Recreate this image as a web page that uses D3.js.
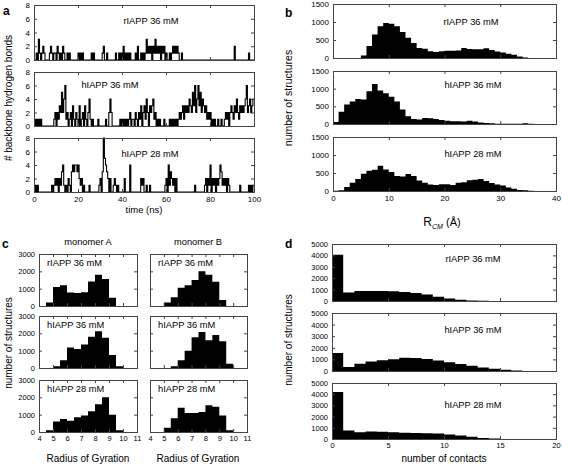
<!DOCTYPE html>
<html><head><meta charset="utf-8">
<script src="https://cdn.jsdelivr.net/npm/d3@7"></script>
<style>body{margin:0;background:#fff}svg{display:block}</style>
</head><body>
<svg id="c" width="562" height="465"></svg>
<script>
// ---------- DATA ----------
// (a) backbone hydrogen bonds vs time, sampled every hbStep ns
const hbStep = 0.5;
const hbTimeTicks = [0, 20, 40, 60, 80, 100];
const hbYTicks = [0, 2, 4, 6, 8];
const hbRat36 = [
 0,0,1,0,3,1,0,1,2,1, 0,0,0,0,1,2,1,0,1,1, 0,2,1,0,1,0,2,1,0,0, 1,0,1,0,0,0,0,0,0,0,
 1,0,1,0,1,0,0,0,0,0, 0,0,1,0,1,0,0,0,0,0, 0,0,1,2,0,0,1,0,0,0, 0,0,0,0,1,0,0,1,0,1,
 0,2,0,1,0,1,0,1,0,0, 0,0,1,0,2,0,0,1,0,1, 0,1,3,1,2,1,2,0,2,1, 3,1,2,1,2,0,2,1,2,0,
 1,0,0,1,0,1,2,1,2,1, 2,1,0,0,1,0,0,0,0,0, 0,0,0,0,0,0,0,0,0,0, 0,0,0,0,0,0,0,0,0,0,
 0,0,0,0,0,0,0,0,0,0, 0,0,0,0,0,0,0,0,0,0, 0,0,2,0,0,0,0,0,0,0, 0,0,0,0,0,1,0,0,0,0];
const hbHum36 = [
 1,0,1,0,1,0,1,0,0,0, 0,0,0,0,0,0,0,0,1,2, 0,2,1,3,2,5,2,4,6,1, 2,0,1,2,0,3,1,0,2,1,
 0,3,0,1,2,0,3,1,0,2, 4,1,0,1,0,0,0,0,1,0, 0,0,0,0,0,1,0,0,2,4, 2,0,0,0,0,0,0,0,1,0,
 1,0,1,0,1,0,1,2,0,1, 1,0,2,1,0,2,1,3,0,2, 3,1,4,2,0,3,2,3,4,1, 2,0,1,0,1,0,0,0,1,0,
 0,0,0,1,0,1,0,1,0,1, 0,1,2,1,2,3,1,3,2,3, 2,4,3,2,5,3,6,2,4,6, 3,5,2,4,3,2,3,1,2,1,
 2,0,1,0,1,0,0,1,0,0, 1,0,0,1,2,1,2,0,2,3, 2,1,3,2,4,2,1,3,2,3, 2,3,4,6,2,3,4,2,3,4];
const hbHum28 = [
 0,1,0,1,0,0,0,0,0,0, 0,0,0,0,0,0,1,0,1,2, 1,2,0,2,1,3,4,1,0,1, 0,2,1,0,3,4,3,4,4,3,
 4,2,1,2,0,1,0,0,0,0, 1,0,0,0,0,0,0,0,0,1, 2,0,3,8,5,4,3,2,0,2, 0,0,1,2,1,0,1,0,0,0,
 0,0,2,0,0,0,0,4,0,0, 0,0,0,0,0,0,0,2,1,2, 0,0,1,0,0,1,0,0,0,0, 0,0,0,0,0,0,0,0,0,1,
 2,0,4,1,3,2,1,2,0,2, 0,0,0,0,0,0,0,0,0,0, 0,0,0,0,0,0,1,0,0,0, 0,0,0,0,0,1,2,0,2,1,
 4,0,2,1,2,0,2,1,2,4, 3,1,2,1,2,0,2,1,0,0, 0,0,0,0,0,0,0,1,0,0, 0,0,0,0,0,1,0,1,0,1];

// (b) R_CM histograms, bins of width 1 Å
const rcmBins = [0,1,2,3,4,5,6,7,8,9,10,11,12,13,14,15,16,17,18,19,20,21,22,23,24,25,26,27,28,29,30,31,32,33,34,35,36,37,38,39];
const rcmBinWidth = 1;
const rcmXTicks = [0, 10, 20, 30, 40];
const rcmYTicks = [0, 500, 1000, 1500];
const rcmRat36 = [0,0,0,0,0,70,330,650,880,970,950,880,720,560,420,280,260,190,170,190,200,200,210,280,250,240,240,270,220,180,150,120,90,40,15,0,0,0,0,0];
const rcmHum36 = [60,350,550,640,710,690,930,1130,950,870,770,640,410,220,140,130,170,160,140,110,90,80,80,70,90,70,40,30,20,10,10,10,10,10,20,10,0,0,0,0];
const rcmHum28 = [5,20,110,230,330,480,560,590,700,600,530,420,400,470,420,290,230,180,170,190,190,170,230,240,300,310,330,280,220,180,150,100,60,30,20,10,0,0,0,0];

// (c) radius of gyration histograms, bins of width 0.5
const rgBins = [4,4.5,5,5.5,6,6.5,7,7.5,8,8.5,9,9.5,10,10.5];
const rgBinWidth = 0.5;
const rgXTicks = [4,5,6,7,8,9,10,11];
const rgYTicks = [0,1000,2000,3000];
const rgRat36A = [0,200,1100,1200,780,750,800,1420,1800,1560,480,0,0,0];
const rgRat36B = [0,0,200,500,1050,1200,1500,2000,1800,1400,350,0,0,0];
const rgHum36A = [0,0,100,450,1180,1100,1350,1800,2120,1750,750,100,0,0];
const rgHum36B = [0,0,0,100,450,1000,1780,2080,1600,1900,1550,250,0,0];
const rgHum28A = [0,100,600,750,650,850,950,1200,1600,2000,1000,100,0,0];
const rgHum28B = [0,0,250,800,1400,1100,1100,1150,1550,1450,950,100,0,0];

// (d) number of contacts histograms, bins of width 1
const ncBins = [0,1,2,3,4,5,6,7,8,9,10,11,12,13,14,15,16,17,18,19];
const ncBinWidth = 1;
const ncXTicks = [0,5,10,15,20];
const ncYTicks = [0,1000,2000,3000,4000,5000];
const ncRat36 = [4050,750,880,880,880,850,800,700,560,380,230,120,50,20,0,0,0,0,0,0];
const ncHum36 = [1550,350,630,820,920,1020,1150,1130,1030,900,760,600,450,310,190,100,40,10,5,0];
const ncHum28 = [4200,750,600,680,650,600,560,540,520,480,400,320,200,100,40,10,0,0,0,0];

const titles = {rat36: "rIAPP 36 mM", hum36: "hIAPP 36 mM", hum28: "hIAPP 28 mM"};

// ---------- DRAWING ----------
const FONT = '"Liberation Sans", Arial, Helvetica, sans-serif';
const svg = d3.select("#c");
const FR = "#444";
const fmt = d3.format("d");

function axes(x, y, o) {
  const [xa, xb] = x.range();
  const [yb, ya] = y.range();
  const tk = 3;
  const g = svg.append("g");
  const bottom = d3.axisBottom(x).tickValues(o.xTicks).tickSizeInner(-tk).tickSizeOuter(0).tickPadding(o.xPad || 4)
    .tickFormat(o.xLabels ? fmt : "");
  g.append("g").attr("transform", `translate(0,${yb})`).call(bottom);
  g.append("g").attr("transform", `translate(0,${ya})`).call(d3.axisTop(x).tickValues(o.xTicks).tickSizeInner(-tk).tickSizeOuter(0).tickFormat(""));
  const left = d3.axisLeft(y).tickValues(o.yTicks).tickSizeInner(-tk).tickSizeOuter(0).tickPadding(o.yPad || 4)
    .tickFormat(o.yLabels ? fmt : "");
  g.append("g").attr("transform", `translate(${xa},0)`).call(left);
  g.append("g").attr("transform", `translate(${xb},0)`).call(d3.axisRight(y).tickValues(o.yTicks).tickSizeInner(-tk).tickSizeOuter(0).tickFormat(""));
  g.selectAll(".domain").remove();
  g.selectAll(".tick line").attr("stroke", FR);
  g.selectAll("text").attr("font-family", FONT).attr("font-size", o.fs || 8).attr("fill", "#000");
  svg.append("rect").attr("x", xa + 0.5).attr("y", ya + 0.5).attr("width", xb - xa).attr("height", yb - ya)
    .attr("fill", "none").attr("stroke", FR).attr("stroke-width", 1);
}

function hist(x, y, starts, width, vals) {
  const pts = starts.map((s, i) => [s, vals[i]]);
  pts.push([starts[starts.length - 1] + width, vals[vals.length - 1]]);
  const area = d3.area().curve(d3.curveStepAfter).x(d => x(d[0])).y0(y(0)).y1(d => y(d[1]));
  svg.append("path").attr("d", area(pts)).attr("fill", "#000");
}

function series(x, y, vals) {
  const pts = vals.map((v, i) => [i * hbStep, v]);
  pts.push([vals.length * hbStep, vals[vals.length - 1]]);
  const line = d3.line().curve(d3.curveStepAfter).x(d => x(d[0])).y(d => y(d[1]));
  svg.append("path").attr("d", line(pts)).attr("fill", "none").attr("stroke", "#000").attr("stroke-width", 1.1);
}

function label(txt, x, y, o = {}) {
  const t = svg.append("text").attr("x", x).attr("y", y).text(txt)
    .attr("font-family", FONT).attr("font-size", o.fs || 9).attr("fill", "#000")
    .attr("text-anchor", o.anchor || "middle");
  if (o.bold) t.attr("font-weight", "bold");
  if (o.rot) t.attr("transform", `rotate(-90,${x},${y})`);
  return t;
}

// ----- panel a -----
const aX = d3.scaleLinear().domain([0, 100]).range([34, 254]);
const aRows = [[5, 60], [72, 126], [138, 192]];
const aData = [hbRat36, hbHum36, hbHum28];
const aTitles = [[titles.rat36, 151, 24], [titles.hum36, 110, 88], [titles.hum28, 150, 157]];
aRows.forEach((r, i) => {
  const y = d3.scaleLinear().domain([0, 8]).range([r[1], r[0]]);
  series(aX, y, aData[i]);
  axes(aX, y, {xTicks: hbTimeTicks, yTicks: hbYTicks, xLabels: i === 2, yLabels: true, fs: 8});
  label(aTitles[i][0], aTitles[i][1], aTitles[i][2], {fs: 9.3});
});
label("time (ns)", 144, 213, {fs: 9.5});
label("# backbone hydrogen bonds", 12, 98, {fs: 10, rot: true});
label("a", 3, 15, {fs: 12, bold: true, anchor: "start"});

// ----- panel b -----
const bX = d3.scaleLinear().domain([0, 40]).range([333, 556]);
const bRows = [[4, 58], [71, 124], [137, 191]];
const bData = [rcmRat36, rcmHum36, rcmHum28];
const bTitles = [[titles.rat36, 471, 25], [titles.hum36, 473, 88], [titles.hum28, 473, 157]];
bRows.forEach((r, i) => {
  const y = d3.scaleLinear().domain([0, 1500]).range([r[1], r[0]]);
  hist(bX, y, rcmBins, rcmBinWidth, bData[i]);
  axes(bX, y, {xTicks: rcmXTicks, yTicks: rcmYTicks, xLabels: i === 2, yLabels: true, fs: 8});
  label(bTitles[i][0], bTitles[i][1], bTitles[i][2], {fs: 9.3});
});
const rcm = svg.append("text").attr("x", 442).attr("y", 226).attr("text-anchor", "middle")
  .attr("font-family", FONT).attr("fill", "#000");
rcm.append("tspan").attr("font-size", 12).text("R");
rcm.append("tspan").attr("font-size", 7).attr("font-style", "italic").attr("dy", 3).text("CM");
rcm.append("tspan").attr("font-size", 11).attr("dy", -3).text(" (Å)");
label("number of structures", 292, 98, {fs: 10.5, rot: true});
label("b", 285, 17, {fs: 12, bold: true, anchor: "start"});

// ----- panel c -----
const cCols = [[39, 137], [150, 247]];
const cRows = [[254, 306], [316, 368], [380, 432]];
const cData = [[rgRat36A, rgRat36B], [rgHum36A, rgHum36B], [rgHum28A, rgHum28B]];
const cTitles = [titles.rat36, titles.hum36, titles.hum28];
cRows.forEach((r, i) => {
  const y = d3.scaleLinear().domain([0, 3000]).range([r[1], r[0]]);
  cCols.forEach((cc, j) => {
    const x = d3.scaleLinear().domain([4, 11]).range(cc);
    hist(x, y, rgBins, rgBinWidth, cData[i][j]);
    axes(x, y, {xTicks: rgXTicks, yTicks: rgYTicks, xLabels: i === 2, yLabels: j === 0, fs: 7.5});
    label(cTitles[i], cc[0] + 8, r[0] + 12, {fs: 9.3, anchor: "start"});
  });
});
label("monomer A", 88, 245, {fs: 9.3});
label("monomer B", 198, 245, {fs: 9.3});
label("Radius of Gyration", 88, 462, {fs: 10});
label("Radius of Gyration", 198, 462, {fs: 10});
label("number of structures", 12, 343, {fs: 10, rot: true});
label("c", 2, 248, {fs: 12, bold: true, anchor: "start"});

// ----- panel d -----
const dX = d3.scaleLinear().domain([0, 20]).range([332, 556]);
const dRows = [[244, 301], [313, 371], [383, 439]];
const dData = [ncRat36, ncHum36, ncHum28];
const dTitles = [[titles.rat36, 473, 262], [titles.hum36, 473, 333], [titles.hum28, 473, 408]];
dRows.forEach((r, i) => {
  const y = d3.scaleLinear().domain([0, 5000]).range([r[1], r[0]]);
  hist(dX, y, ncBins, ncBinWidth, dData[i]);
  axes(dX, y, {xTicks: ncXTicks, yTicks: ncYTicks, xLabels: i === 2, yLabels: true, fs: 7.5});
  label(dTitles[i][0], dTitles[i][1], dTitles[i][2], {fs: 9.3});
});
label("number of contacts", 444, 462, {fs: 10});
label("number of structures", 292, 340, {fs: 10, rot: true});
label("d", 285, 248, {fs: 12, bold: true, anchor: "start"});
</script>
</body></html>
